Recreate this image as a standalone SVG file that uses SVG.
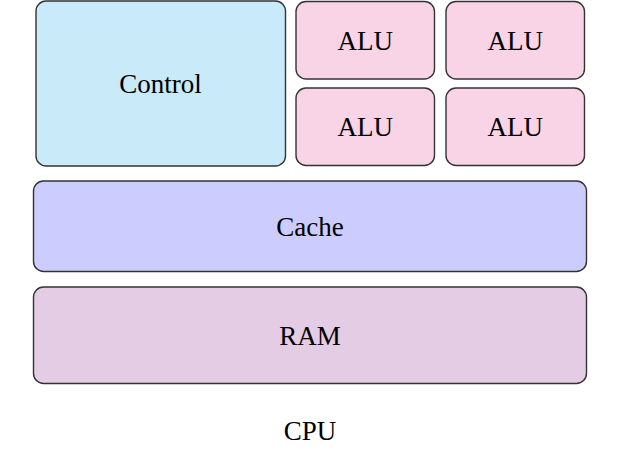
<svg xmlns="http://www.w3.org/2000/svg" width="627" height="449" viewBox="0 0 627 449">
<style>
  .box { stroke: #333333; stroke-width: 1.4; }
  .ctrl { fill: #c8eaf9; }
  .alu { fill: #f9d3e6; }
  .cache { fill: #ccccff; }
  .ram { fill: #e4cce4; }
  text { font-family: "Liberation Serif", "Times New Roman", serif; font-size: 27px; fill: #000; text-anchor: middle; }
</style>
<rect width="627" height="449" fill="#ffffff"/>
<g id="control">
  <rect class="box ctrl" x="36" y="1" width="249.5" height="165" rx="10"/>
  <text x="160.5" y="93.3">Control</text>
</g>
<g id="alu1">
  <rect class="box alu" x="296" y="1.5" width="138.5" height="77.5" rx="10"/>
  <text x="365.3" y="50">ALU</text>
</g>
<g id="alu2">
  <rect class="box alu" x="446" y="1.5" width="138.5" height="77.5" rx="10"/>
  <text x="515.3" y="50">ALU</text>
</g>
<g id="alu3">
  <rect class="box alu" x="296" y="88" width="138.5" height="77.5" rx="10"/>
  <text x="365.3" y="136">ALU</text>
</g>
<g id="alu4">
  <rect class="box alu" x="446" y="88" width="138.5" height="77.5" rx="10"/>
  <text x="515.3" y="136">ALU</text>
</g>
<g id="cache">
  <rect class="box cache" x="33.5" y="181" width="553" height="90.5" rx="10"/>
  <text x="310" y="236">Cache</text>
</g>
<g id="ram">
  <rect class="box ram" x="33.5" y="287" width="553" height="96.5" rx="10"/>
  <text x="310" y="345">RAM</text>
</g>
<g id="cpu-label">
  <text x="310" y="440">CPU</text>
</g>
<g id="connectors"></g>
</svg>
